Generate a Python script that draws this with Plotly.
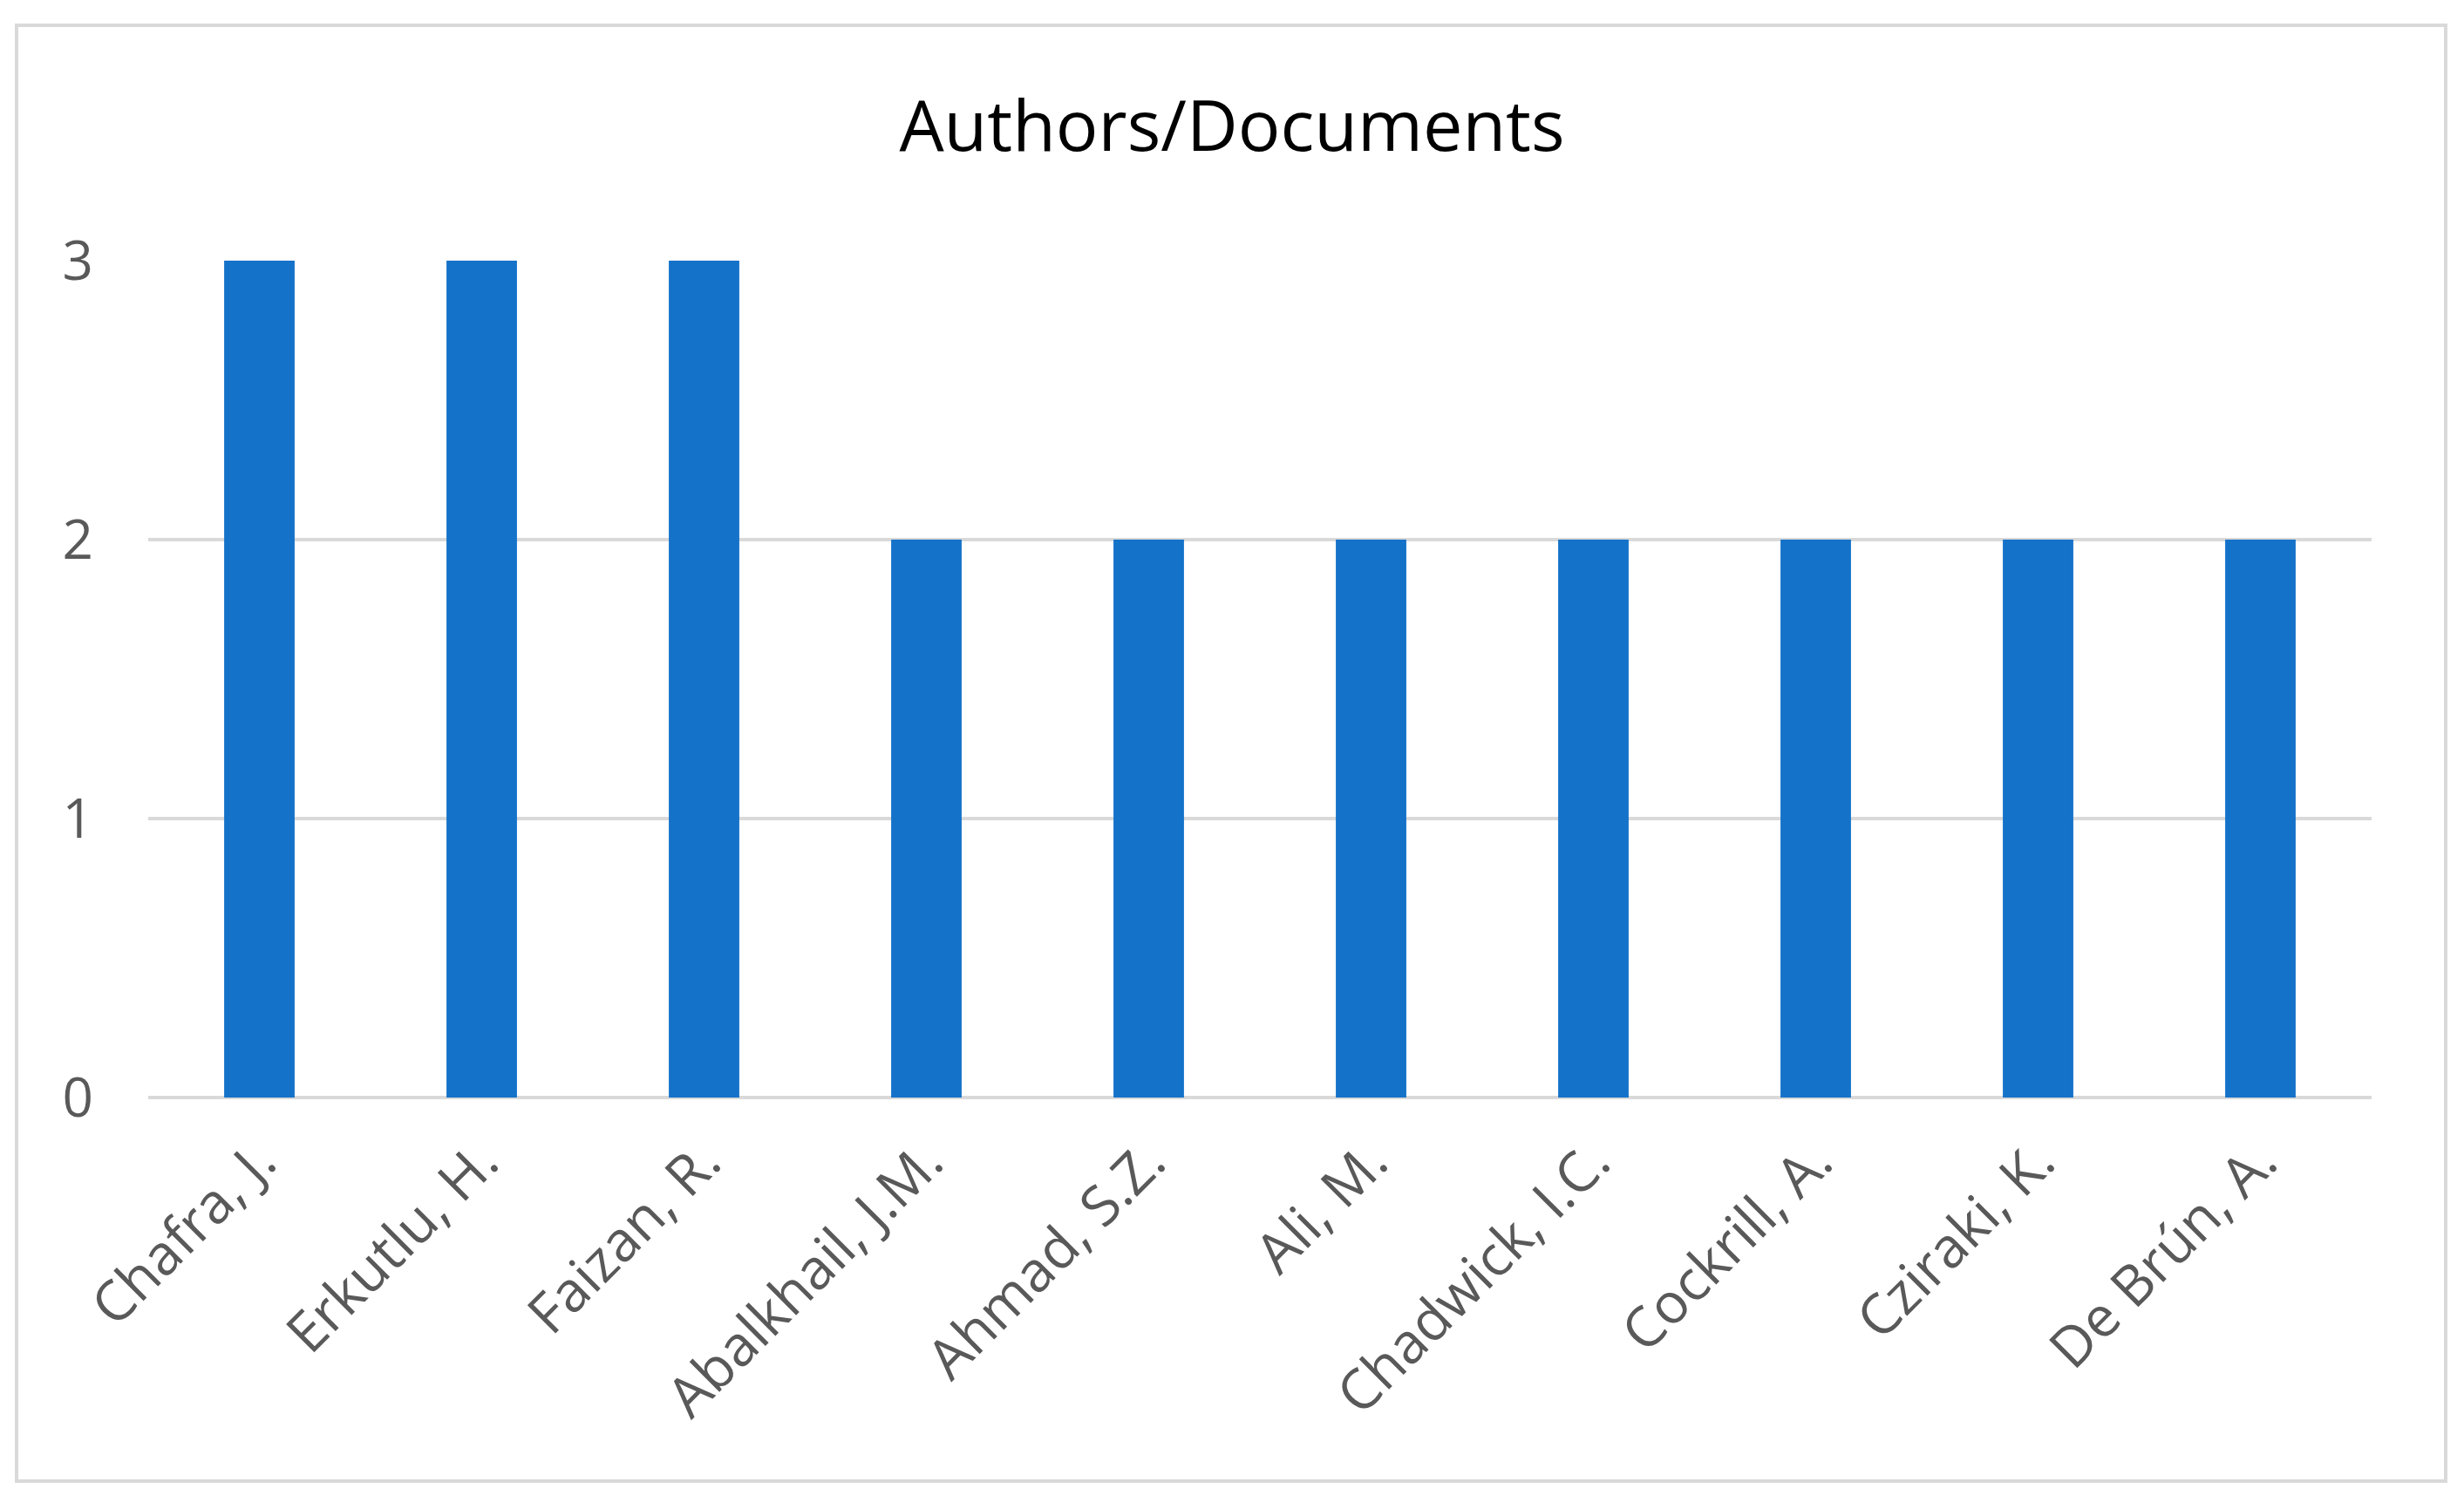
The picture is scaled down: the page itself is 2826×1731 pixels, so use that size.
import plotly.graph_objects as go

authors = ["Chafra, J.", "Erkutlu, H.", "Faizan, R.", "Abalkhail, J.M.", "Ahmad, S.Z.",
           "Ali, M.", "Chadwick, I.C.", "Cockrill, A.", "Cziraki, K.", "De Brún, A."]
documents = [3, 3, 3, 2, 2, 2, 2, 2, 2, 2]
y_ticks = [0, 1, 2, 3]

# page body has an 8px default margin, so the figure is 16px smaller than the window
W, H = 2810, 1715
L, R, T, B = 162, 98, 291, 464

fig = go.Figure(go.Bar(x=authors, y=documents, marker=dict(color="#1572C9", line=dict(width=0))))

fig.update_layout(
    width=W, height=H,
    margin=dict(l=L, r=R, t=T, b=B, autoexpand=False),
    paper_bgcolor="white", plot_bgcolor="white",
    bargap=0.683,
    showlegend=False,
    font=dict(family="Open Sans", color="#595959"),
    title=dict(text="Authors/Documents", x=0.5, xanchor="center", xref="container",
               y=1 - 137 / H, yanchor="middle", yref="container",
               font=dict(family="Open Sans", size=81, color="#000000")),
    xaxis=dict(tickangle=-45, tickfont=dict(size=64, color="#595959"),
               showgrid=False, showline=False, zeroline=False, ticks="",
               ticklabelstandoff=22),
    yaxis=dict(range=[0, 3], tickvals=y_ticks, tickfont=dict(size=62, color="#595959"),
               showgrid=True, gridcolor="#D9D9D9", gridwidth=4,
               zeroline=True, zerolinecolor="#D9D9D9", zerolinewidth=4,
               showline=False, ticks="", ticklabelstandoff=62),
)

pw, ph = W - L - R, H - T - B
fig.add_shape(type="rect", xref="paper", yref="paper",
              x0=(11 - L) / pw, x1=(2797 - L) / pw,
              y0=((H - B) - 1691) / ph, y1=((H - B) - 21) / ph,
              line=dict(color="#D9D9D9", width=4), fillcolor="rgba(0,0,0,0)", layer="below")

fig.write_html("out.html")
